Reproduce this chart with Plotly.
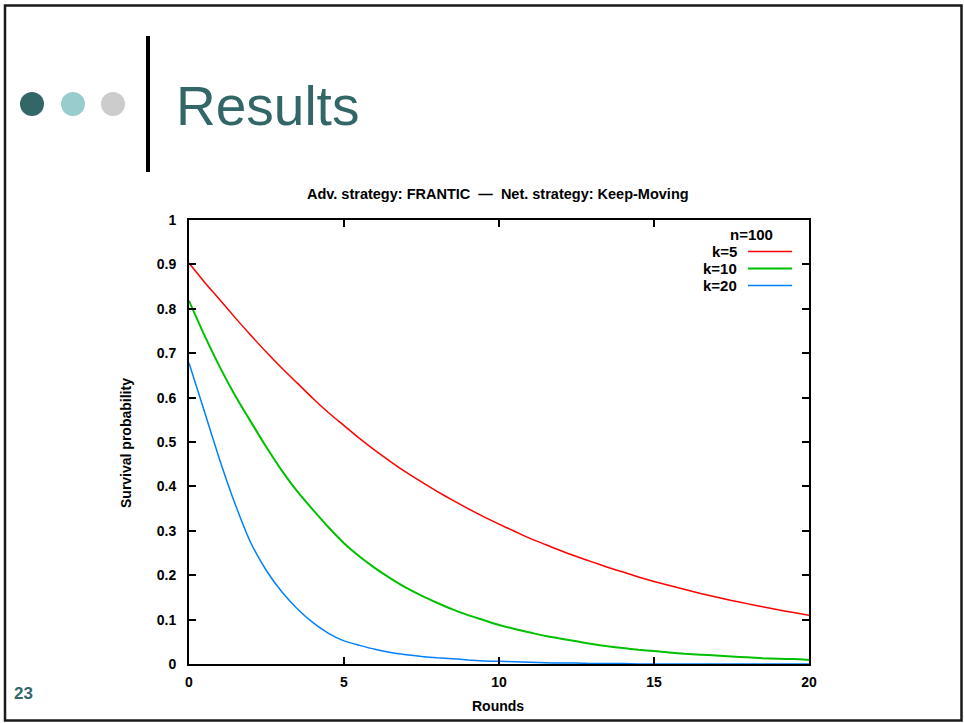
import plotly.graph_objects as go

# ---------------- data ----------------
rounds = [i * 0.5 for i in range(41)]

k5_red = [0.903, 0.860, 0.820, 0.779, 0.740, 0.702, 0.666, 0.632, 0.598, 0.566,
          0.537, 0.508, 0.481, 0.456, 0.432, 0.410, 0.389, 0.369, 0.350, 0.332,
          0.315, 0.299, 0.283, 0.269, 0.255, 0.242, 0.230, 0.218, 0.207, 0.196,
          0.186, 0.177, 0.168, 0.159, 0.151, 0.143, 0.136, 0.129, 0.122, 0.116,
          0.110]

k10_green = [0.818, 0.740, 0.668, 0.603, 0.545, 0.488, 0.435, 0.388, 0.347, 0.308,
             0.272, 0.242, 0.216, 0.193, 0.172, 0.154, 0.138, 0.123, 0.110, 0.099,
             0.088, 0.079, 0.071, 0.063, 0.057, 0.051, 0.045, 0.040, 0.036, 0.032,
             0.029, 0.026, 0.023, 0.021, 0.019, 0.017, 0.015, 0.013, 0.012, 0.011,
             0.009]

k20_blue = [0.678, 0.568, 0.458, 0.358, 0.272, 0.210, 0.162, 0.124, 0.093, 0.069,
            0.052, 0.042, 0.033, 0.026, 0.021, 0.017, 0.014, 0.012, 0.009, 0.007,
            0.006, 0.005, 0.004, 0.003, 0.002, 0.002, 0.001, 0.001, 0.001, 0.0,
            0.0, 0.0, 0.0, 0.0, 0.0, 0.0, 0.0, 0.0, 0.0, 0.0,
            0.0]

series_names = ["k=5", "k=10", "k=20"]
series_colors = ["#ff0000", "#00c000", "#0080ff"]
series_widths = [1.5, 2.0, 1.5]

x_ticks = [0, 5, 10, 15, 20]
y_ticks = [0, 0.1, 0.2, 0.3, 0.4, 0.5, 0.6, 0.7, 0.8, 0.9, 1]
y_tick_text = ["0", "0.1", "0.2", "0.3", "0.4", "0.5", "0.6", "0.7", "0.8", "0.9", "1"]

slide_title = "Results"
chart_title = "Adv. strategy: FRANTIC  \u2014  Net. strategy: Keep-Moving"
legend_title = "n=100"
page_number = "23"

# ---------------- layout geometry ----------------
W, H = 964, 723
L, R, T, B = 189, 155, 220, 59
PW, PH = W - L - R, H - T - B


def px(x):
    return (x - L) / PW


def py(y):
    return (H - B - y) / PH


TEAL = "#336666"
FONT = "Liberation Sans, Arial, sans-serif"

fig = go.Figure()
for name, vals, col, lw in zip(series_names, [k5_red, k10_green, k20_blue],
                               series_colors, series_widths):
    fig.add_trace(go.Scatter(x=rounds, y=vals, mode="lines", name=name,
                             line=dict(color=col, width=lw, shape="spline",
                                       smoothing=0.6),
                             showlegend=False))

shapes = []
annotations = []

# slide border
shapes.append(dict(type="rect", xref="paper", yref="paper",
                   x0=px(5), x1=px(961.5), y0=py(5.5), y1=py(720.5),
                   line=dict(color="#1a1a1a", width=2.5), layer="below"))
# bullets
for cx, col in zip([32, 73, 113], [TEAL, "#99cccc", "#cccccc"]):
    shapes.append(dict(type="circle", xref="paper", yref="paper",
                       x0=px(cx - 12), x1=px(cx + 12), y0=py(104 - 12), y1=py(104 + 12),
                       line=dict(width=0), fillcolor=col))
# vertical bar
shapes.append(dict(type="rect", xref="paper", yref="paper",
                   x0=px(146), x1=px(150), y0=py(36), y1=py(172),
                   line=dict(width=0), fillcolor="#000000"))

# slide title
annotations.append(dict(text=slide_title, xref="paper", yref="paper",
                        x=px(174), y=py(106), xanchor="left", yanchor="middle",
                        showarrow=False, font=dict(family=FONT, size=55, color=TEAL)))
# page number
annotations.append(dict(text="<b>%s</b>" % page_number, xref="paper", yref="paper",
                        x=px(23), y=py(693), xanchor="center", yanchor="middle",
                        showarrow=False, font=dict(family=FONT, size=17, color=TEAL)))
# chart title
annotations.append(dict(text="<b>%s</b>" % chart_title, xref="paper", yref="paper",
                        x=px(498), y=py(194), xanchor="center", yanchor="middle",
                        showarrow=False, font=dict(family=FONT, size=14.5, color="#000")))
# y axis title
annotations.append(dict(text="<b>Survival probability</b>", xref="paper", yref="paper",
                        x=px(126), y=py(443), xanchor="center", yanchor="middle",
                        textangle=-90, showarrow=False,
                        font=dict(family=FONT, size=14, color="#000")))
# x axis title
annotations.append(dict(text="<b>Rounds</b>", xref="paper", yref="paper",
                        x=px(498), y=py(706), xanchor="center", yanchor="middle",
                        showarrow=False, font=dict(family=FONT, size=14, color="#000")))
# legend (gnuplot style: label left of sample line)
annotations.append(dict(text="<b>%s</b>" % legend_title, xref="paper", yref="paper",
                        x=px(751), y=py(234), xanchor="center", yanchor="middle",
                        showarrow=False, font=dict(family=FONT, size=15, color="#000")))
for i, (name, col, lw) in enumerate(zip(series_names, series_colors, series_widths)):
    yy = 251.5 + i * 17
    annotations.append(dict(text="<b>%s</b>" % name, xref="paper", yref="paper",
                            x=px(739), y=py(yy), xanchor="right", yanchor="middle",
                            showarrow=False, font=dict(family=FONT, size=15, color="#000")))
    shapes.append(dict(type="line", xref="paper", yref="paper",
                       x0=px(748), x1=px(792), y0=py(yy), y1=py(yy),
                       line=dict(color=col, width=lw)))

axis_common = dict(showgrid=False, zeroline=False, showline=True, linecolor="#000",
                   linewidth=2, mirror="ticks", ticks="inside", ticklen=7,
                   tickwidth=2, tickcolor="#000",
                   tickfont=dict(family=FONT, size=14, color="#000"),
                   automargin=False)

fig.update_layout(
    width=W, height=H,
    margin=dict(l=L, r=R, t=T, b=B, autoexpand=False),
    paper_bgcolor="white", plot_bgcolor="white",
    xaxis=dict(range=[0, 20], tickvals=x_ticks, ticklabelstandoff=4,
               ticktext=["<b>%d</b>" % v for v in x_ticks], **axis_common),
    yaxis=dict(range=[0, 1], tickvals=y_ticks, ticklabelstandoff=8,
               ticktext=["<b>%s</b>" % t for t in y_tick_text], **axis_common),
    shapes=shapes, annotations=annotations, showlegend=False,
)

fig.write_html("out.html", config={"displayModeBar": False},
               post_script="document.body.style.margin='0';document.body.style.overflow='hidden';")
